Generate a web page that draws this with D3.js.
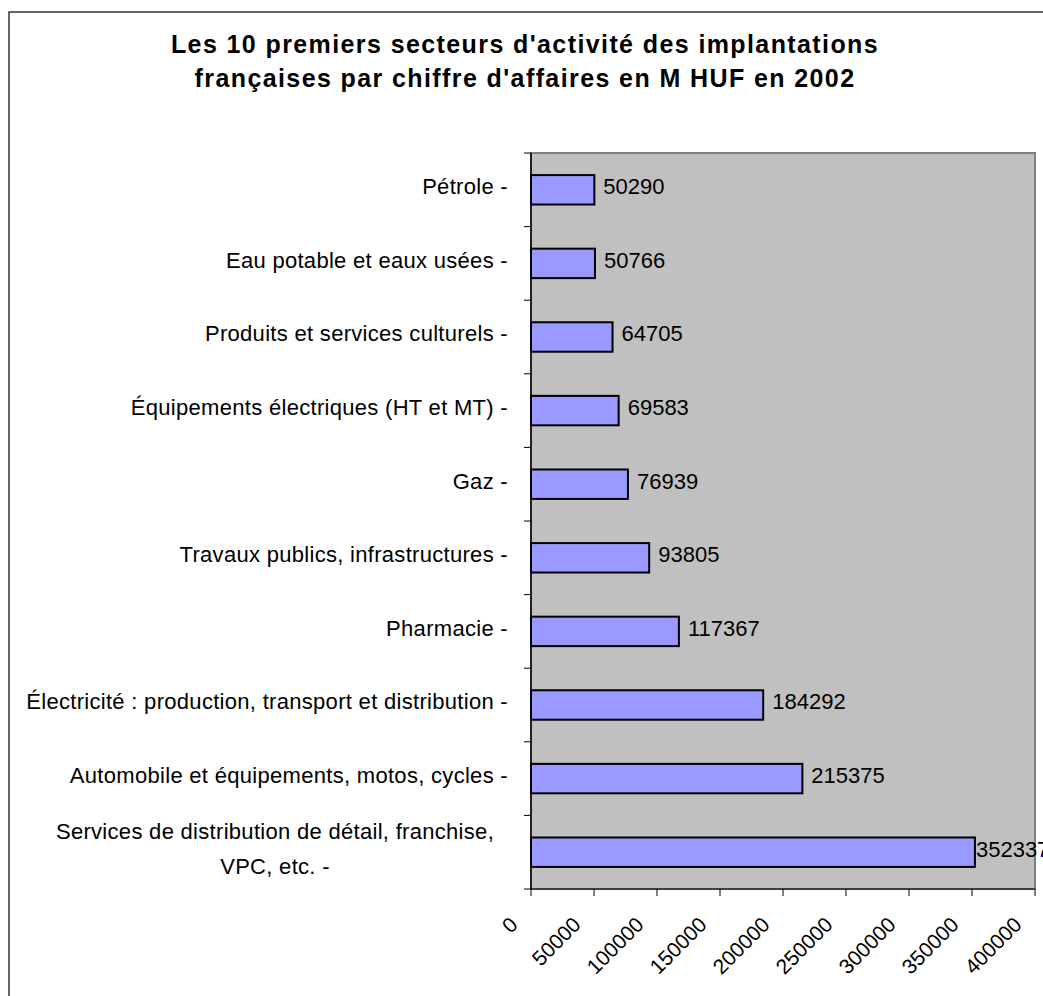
<!DOCTYPE html>
<html>
<head>
<meta charset="utf-8">
<script src="https://cdn.jsdelivr.net/npm/d3@7"></script>
<style>
  body { margin: 0; background: #fff; }
  svg { display: block; font-family: "Liberation Sans", Arial, sans-serif; }
</style>
</head>
<body>
<div id="chart"></div>
<script>
// valeurs
const categories = [
  "Pétrole",
  "Eau potable et eaux usées",
  "Produits et services culturels",
  "Équipements électriques (HT et MT)",
  "Gaz",
  "Travaux publics, infrastructures",
  "Pharmacie",
  "Électricité : production, transport et distribution",
  "Automobile et équipements, motos, cycles",
  "Services de distribution de détail, franchise, VPC, etc."
];
const values = [50290, 50766, 64705, 69583, 76939, 93805, 117367, 184292, 215375, 352337];
const xTicks = [0, 50000, 100000, 150000, 200000, 250000, 300000, 350000, 400000];
const titleLines = [
  "Les 10 premiers secteurs d'activité des implantations",
  "françaises par chiffre d'affaires en M HUF en 2002"
];

const W = 1043, H = 996;
const plot = { left: 531, right: 1035, top: 153, bottom: 889 };

const data = categories.map((c, i) => ({ cat: c, value: values[i] }));

const svg = d3.select("#chart").append("svg")
  .attr("width", W)
  .attr("height", H);

// cadre du graphique (dépasse de l'image à droite et en bas)
svg.append("rect")
  .attr("x", 9).attr("y", 12)
  .attr("width", 1200).attr("height", 1200)
  .attr("fill", "#fff")
  .attr("stroke", "#333")
  .attr("stroke-width", 1.5);

// titre
svg.append("g").selectAll("text")
  .data(titleLines)
  .enter().append("text")
    .attr("x", 525)
    .attr("y", (d, i) => 53 + i * 34)
    .attr("text-anchor", "middle")
    .style("font-size", "25px")
    .style("font-weight", "bold")
    .style("letter-spacing", "1.4px")
    .text(d => d);

const x = d3.scaleLinear()
  .domain([0, 400000])
  .range([plot.left, plot.right]);

const y = d3.scaleBand()
  .domain(categories)
  .range([plot.top, plot.bottom])
  .paddingInner(0.6)
  .paddingOuter(0.3);

// zone de traçage
svg.append("rect")
  .attr("x", plot.left).attr("y", plot.top)
  .attr("width", plot.right - plot.left)
  .attr("height", plot.bottom - plot.top)
  .attr("fill", "#C0C0C0")
  .attr("stroke", "#808080")
  .attr("stroke-width", 2);

// barres
svg.selectAll(".bar")
  .data(data)
  .enter().append("rect")
    .attr("class", "bar")
    .attr("x", x(0))
    .attr("y", d => y(d.cat))
    .attr("width", d => x(d.value) - x(0))
    .attr("height", y.bandwidth())
    .attr("fill", "#9999FF")
    .attr("stroke", "#000")
    .attr("stroke-width", 2);

// étiquettes de valeurs
svg.selectAll(".value-label")
  .data(data)
  .enter().append("text")
    .attr("class", "value-label")
    .attr("x", d => x(d.value) + (d.value > 300000 ? 1 : 9))
    .attr("y", d => y(d.cat) + y.bandwidth() / 2)
    .attr("dy", "0.2em")
    .style("font-size", "22px")
    .text(d => d.value);

// axe vertical
const step = y.step();
const boundaries = categories.map(c => y(c) + y.bandwidth() / 2 - step / 2)
  .concat([plot.bottom]);

svg.append("g").selectAll("line")
  .data(boundaries)
  .enter().append("line")
    .attr("x1", plot.left - 7).attr("x2", plot.left)
    .attr("y1", d => d).attr("y2", d => d)
    .attr("stroke", "#000").attr("stroke-width", 1);

svg.append("line")
  .attr("x1", plot.left).attr("x2", plot.left)
  .attr("y1", plot.top).attr("y2", plot.bottom)
  .attr("stroke", "#000").attr("stroke-width", 1.5);

// libellés des catégories (avec retour à la ligne si trop long)
const maxLabel = 482;
const labels = svg.append("g")
  .style("font-size", "22px")
  .style("letter-spacing", "0.3px");
data.forEach(d => {
  const words = (d.cat + " -").split(" ");
  const probe = labels.append("text");
  const lines = [];
  let line = [];
  words.forEach(w => {
    line.push(w);
    probe.text(line.join(" "));
    if (probe.node().getComputedTextLength() > maxLabel && line.length > 1) {
      line.pop();
      lines.push(line.join(" "));
      line = [w];
    }
  });
  lines.push(line.join(" "));
  probe.remove();

  const cy = y(d.cat) + y.bandwidth() / 2;
  const lh = 35;
  const t = labels.append("text")
    .attr("text-anchor", lines.length > 1 ? "middle" : "end");
  lines.forEach((l, i) => {
    t.append("tspan")
      .attr("x", lines.length > 1 ? 275 : plot.left - 23)
      .attr("y", cy - (lines.length - 1) * lh / 2 + i * lh)
      .attr("dy", "0.2em")
      .text(l);
  });
});

// axe horizontal
svg.append("line")
  .attr("x1", plot.left).attr("x2", plot.right)
  .attr("y1", plot.bottom).attr("y2", plot.bottom)
  .attr("stroke", "#000").attr("stroke-width", 1);

svg.append("g").selectAll("line")
  .data(xTicks)
  .enter().append("line")
    .attr("x1", d => x(d)).attr("x2", d => x(d))
    .attr("y1", plot.bottom).attr("y2", plot.bottom + 7)
    .attr("stroke", "#000").attr("stroke-width", 1);

svg.append("g").selectAll("text")
  .data(xTicks)
  .enter().append("text")
    .attr("transform", d => `translate(${x(d) - 12},${plot.bottom + 37}) rotate(-45)`)
    .attr("text-anchor", "end")
    .style("font-size", "21px")
    .text(d => d);
</script>
</body>
</html>
